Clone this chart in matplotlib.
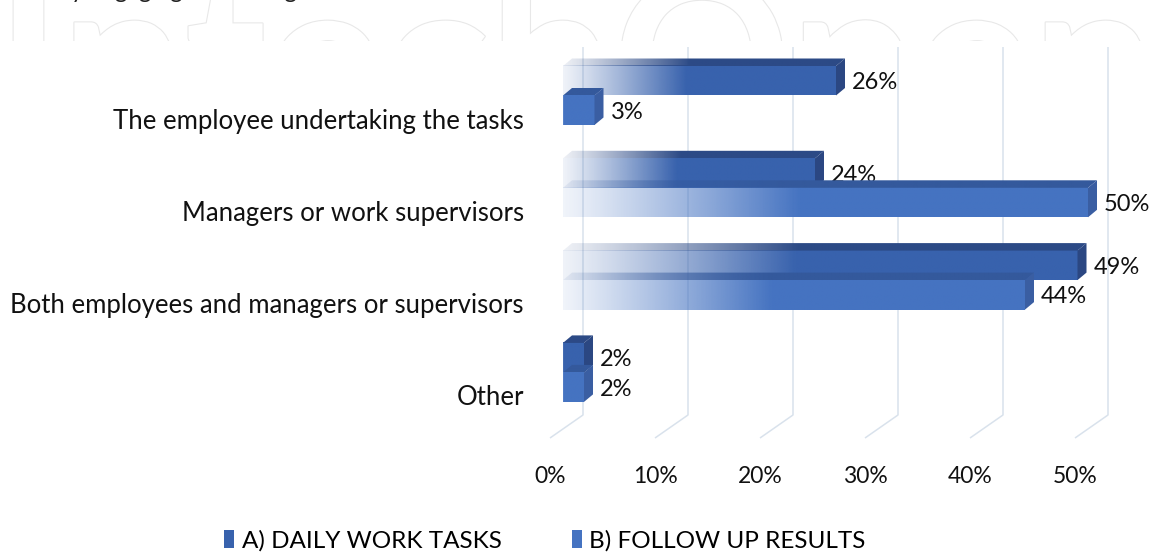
import numpy as np
import matplotlib
matplotlib.use('Agg')
import matplotlib.pyplot as plt
import matplotlib.patheffects as pe
from matplotlib.patches import Polygon, Patch
from matplotlib.colors import to_rgb

# data
categories = ['The employee undertaking the tasks', 'Managers or work supervisors',
              'Both employees and managers or supervisors', 'Other']
daily_tasks = [26, 24, 49, 2]     # A) upper bar of each pair
follow_up = [3, 50, 44, 2]        # B) lower bar of each pair
xticks = [0, 10, 20, 30, 40, 50]
series_names = ['A) DAILY WORK TASKS', 'B) FOLLOW UP RESULTS']

plt.rcParams['font.family'] = ['Lato', 'DejaVu Sans']

W, H = 1159, 557
fig = plt.figure(figsize=(W / 100, H / 100), dpi=100)

# faint text line of the page above, only descenders show
fig.text(0.0, 1 + 1.5 / H, 'done by engaging the managers and the workers in the',
         fontsize=17, va='baseline', ha='left', color='#222222')

# watermark strip
wm = fig.add_axes([0, 1 - 41 / H, 1, 41 / H])
wm.set_xlim(0, W)
wm.set_ylim(41, 0)
wm.axis('off')
t = wm.text(-4, 135, 'IntechOpen', fontsize=158, fontweight='bold', color='white',
            va='baseline', ha='left', clip_on=True)
t.set_path_effects([pe.Stroke(linewidth=1.6, foreground='#e8e8e8'), pe.Normal()])

# main axes (x in %, y in category units, 0 at pixel 563, 10.5 px per %)
px_per_x = 10.5
px_per_y = 92.3
x_lo, x_hi = -2, 55
y_top_px, y_bot_px, y0_px = 40, 440, 95.5
left_px = 563 + x_lo * px_per_x
ax = fig.add_axes([left_px / W, 1 - y_bot_px / H,
                   (x_hi - x_lo) * px_per_x / W, (y_bot_px - y_top_px) / H])
ax.patch.set_alpha(0)
for s in ax.spines.values():
    s.set_visible(False)

bar_h = 29.5 / px_per_y
dx = 9 / px_per_x
dy = 7.5 / px_per_y
back_off = 20 / px_per_x
floor_off = -13 / px_per_x
grid_top = (47 - y0_px) / px_per_y
grid_bot = (415 - y0_px) / px_per_y
floor_bot = (438 - y0_px) / px_per_y

# 3d-ish gridlines
for v in xticks:
    ax.plot([v + back_off, v + back_off, v + floor_off], [grid_top, grid_bot, floor_bot],
            color='#d9e2ec', lw=1.1, zorder=0, solid_capstyle='butt')

A_cols = ('#3862ad', '#2c4a86', '#2b4782')
B_cols = ('#4573c1', '#34599c', '#3a5ea2')


def grad(color, length, n=300):
    x = np.linspace(0, length, n)
    ramp = 0.45 * length if length >= 10 else 1e-9
    frac = np.clip(x / ramp, 0, 1)
    rgba = np.zeros((1, n, 4))
    rgba[0, :, :3] = to_rgb(color)
    rgba[0, :, 3] = 0.08 + 0.92 * frac ** 1.1
    return rgba


def bar3d(v, ytop, cols, z):
    front, top, side = cols
    ybot = ytop + bar_h
    ax.imshow(grad(front, v), extent=(0, v, ybot, ytop), aspect='auto',
              interpolation='bilinear', zorder=z)
    poly = Polygon([(0, ytop), (v, ytop), (v + dx, ytop - dy), (dx, ytop - dy)],
                   closed=True, transform=ax.transData)
    im = ax.imshow(grad(top, v + dx), extent=(0, v + dx, ytop, ytop - dy), aspect='auto',
                   interpolation='bilinear', zorder=z)
    im.set_clip_path(poly)
    ax.add_patch(Polygon([(v, ytop), (v + dx, ytop - dy), (v + dx, ybot - dy), (v, ybot)],
                         closed=True, facecolor=side, edgecolor='none', zorder=z))
    ax.annotate(f'{v}%', xy=(v + dx, ytop + bar_h / 2), xytext=(7, -2),
                textcoords='offset pixels', va='center', ha='left', fontsize=17,
                color='#111111', zorder=z + 1, annotation_clip=False)


for i in range(len(categories)):
    bar3d(daily_tasks[i], i - bar_h, A_cols, 2 + 2 * i)
    bar3d(follow_up[i], i, B_cols, 3 + 2 * i)

ax.set_xlim(x_lo, x_hi)
ax.set_ylim((y_bot_px - y0_px) / px_per_y, (y_top_px - y0_px) / px_per_y)

ax.set_yticks(np.arange(len(categories)) + 23 / px_per_y, labels=categories)
ax.set_xticks([v + floor_off for v in xticks], labels=[f'{v}%' for v in xticks])
ax.tick_params(axis='y', length=0, pad=13, labelsize=18.5, labelcolor='#111111')
ax.tick_params(axis='x', length=0, pad=19, labelsize=16.5, labelcolor='#111111')

handles = [Patch(facecolor=A_cols[0]), Patch(facecolor=B_cols[0])]
fig.legend(handles, series_names, loc='center', bbox_to_anchor=(545 / W, 1 - 541 / H),
           ncol=2, frameon=False, fontsize=17.5, handlelength=0.42, handleheight=0.75,
           handletextpad=0.3, columnspacing=2.9)

fig.savefig('out.png', dpi=100)
